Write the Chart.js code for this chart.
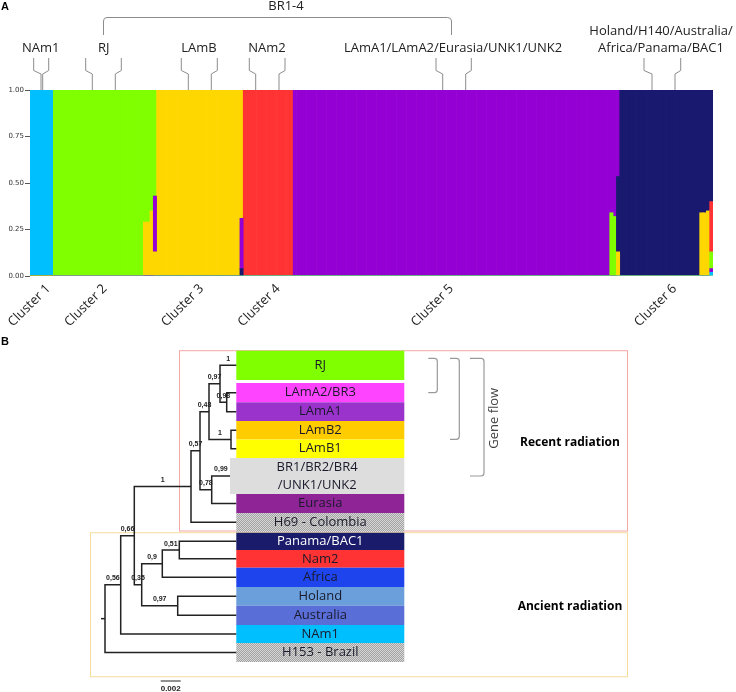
<!DOCTYPE html>
<html>
<head>
<meta charset="utf-8">
<script src="https://cdn.jsdelivr.net/npm/chart.js@4.4.0/dist/chart.umd.min.js"></script>
<style>
    html, body { margin: 0; padding: 0; background: #fff; }
    #wrap { position: relative; width: 736px; height: 692px; }
    #structure { position: absolute; left: 0; top: 0; }
    #tree { position: absolute; left: 0; top: 335px; }
</style>
</head>
<body>
<div id="wrap">
    <canvas id="structure" width="736" height="335" style="width:736px;height:335px"></canvas>
    <canvas id="tree" width="736" height="357" style="width:736px;height:357px"></canvas>
</div>
<script>
// --- Panel A data: STRUCTURE memberships, K = 6 ---
const components = ['NAm1', 'RJ', 'LAmB', 'NAm2', 'LAmA1/LAmA2/Eurasia', 'Holand/Australia/Africa/Panama'];
const componentColors = ['#00bfff', '#7fff00', '#ffd700', '#ff3333', '#9400d3', '#191970'];

// runs of identical isolates: [count, q1, q2, q3, q4, q5, q6]
const sampleRuns = [
    [7, 1, 0, 0, 0, 0, 0],
    [27, 0, 1, 0, 0, 0, 0],
    [2, 0, 0.71, 0.29, 0, 0, 0],
    [1, 0, 0.65, 0.35, 0, 0, 0],
    [1, 0, 0.57, 0.13, 0, 0.30, 0],
    [25, 0, 0, 1, 0, 0, 0],
    [1, 0, 0, 0.69, 0, 0.27, 0.04],
    [15, 0, 0, 0, 1, 0, 0],
    [95, 0, 0, 0, 0, 1, 0],
    [1, 0, 0.34, 0, 0, 0.66, 0],
    [1, 0, 0.32, 0, 0, 0.68, 0],
    [1, 0, 0, 0.13, 0, 0.465, 0.405],
    [24, 0, 0, 0, 0, 0, 1],
    [2, 0, 0, 0.34, 0, 0, 0.66],
    [1, 0, 0, 0.35, 0, 0, 0.65],
    [1, 0.02, 0.09, 0, 0.27, 0.02, 0.60]
];
const clusterNames = ['Cluster 1', 'Cluster 2', 'Cluster 3', 'Cluster 4', 'Cluster 5', 'Cluster 6'];
const clusterTickSample = [5, 22, 51, 74, 126, 193];
const yTicks = [0, 0.25, 0.5, 0.75, 1];

// --- Panel B data: Bayesian tree ---
const tipIds = ['RJ', 'LAmA2', 'LAmA1', 'LAmB2', 'LAmB1', 'BR', 'Eurasia', 'H69', 'Panama', 'Nam2', 'Africa', 'Holand', 'Australia', 'NAm1', 'H153'];
const tipLabels = ['RJ', 'LAmA2/BR3', 'LAmA1', 'LAmB2', 'LAmB1', 'BR1/BR2/BR4\n/UNK1/UNK2', 'Eurasia', 'H69 - Colombia',
    'Panama/BAC1', 'Nam2', 'Africa', 'Holand', 'Australia', 'NAm1', 'H153 - Brazil'];
const tipDepth = [0.01313, 0.01313, 0.01313, 0.01313, 0.01313, 0.0125, 0.01313, 0.01313,
    0.01313, 0.01313, 0.01313, 0.01313, 0.01313, 0.01313, 0.01313];
const tipSupport = ['1', '', '', '', '', '0,99', '', '', '', '', '', '', '', '', ''];

const cladeIds = ['LAmA', 'RJ_LAmA', 'LAmB', 'RJ_LAm', 'BR_Eur', 'core', 'recent', 'Pan_Nam2', 'Pan_Afr', 'Hol_Aus', 'ancient', 'rec_anc', 'with_NAm1', 'root'];
const cladeChildren = [
    ['LAmA2', 'LAmA1'], ['RJ', 'LAmA'], ['LAmB2', 'LAmB1'], ['RJ_LAmA', 'LAmB'], ['BR', 'Eurasia'],
    ['RJ_LAm', 'BR_Eur'], ['core', 'H69'], ['Panama', 'Nam2'], ['Pan_Nam2', 'Africa'], ['Holand', 'Australia'],
    ['Pan_Afr', 'Hol_Aus'], ['recent', 'ancient'], ['rec_anc', 'NAm1'], ['with_NAm1', 'H153']
];
const cladeDepth = [0.01217, 0.0115, 0.0126, 0.0104, 0.01067, 0.0095, 0.0086, 0.00743, 0.00573, 0.00727, 0.00367, 0.00293, 0.00157, 0];
const cladeSupport = ['0,98', '0,97', '1', '0,48', '0,78', '0,57', '1', '0,51', '0,9', '0,97', '0,35', '0,66', '0,56', ''];

// --- layout / styles ---
const tipRows = [[350.7, 380], [383, 402.3], [402.3, 421], [421, 439.5], [439.5, 458], [458, 494], [494, 513], [513, 531.7],
    [532.7, 550], [550, 567.7], [567.7, 587], [587, 605.7], [605.7, 625], [625, 643], [643, 662]];
const tipColors = ['#80ff00', '#ff44ff', '#9933cc', '#ffcc00', '#ffff00', '#dddddd', '#8e2496', 'stipple',
    '#1b1b6b', '#ff3333', '#1e44ee', '#6a9fdc', '#5a6ed8', '#00bfff', 'stipple'];
const tipTextColors = tipIds.map(id => id === 'Panama' ? '#ffffff' : '#1a1a2a');
const boxRight = 404.3;

Chart.defaults.font.family = "'Open Sans', sans-serif";

// ---------- Panel A ----------
const samples = [];
sampleRuns.forEach(run => {
    for (let i = 0; i < run[0]; i++) samples.push(run.slice(1));
});
// each bar is stacked from the smallest membership up
const order = samples.map(q => q.map((v, k) => k).sort((a, b) => q[a] - q[b]));
const rankDatasets = components.map((_, r) => ({
    label: 'rank ' + (r + 1),
    data: samples.map((q, i) => q[order[i][r]]),
    backgroundColor: samples.map((q, i) => componentColors[order[i][r]]),
    borderWidth: 0,
    barPercentage: 1,
    categoryPercentage: 1
}));

const topNotes = [
    { lines: ['NAm1'], x: 40.7, brace: [33.7, 41, 42.7, 48.7] },
    { lines: ['RJ'], x: 103.7, brace: [85.7, 92.3, 115.3, 121.3] },
    { lines: ['LAmB'], x: 199, brace: [181.3, 188.3, 211.3, 217.3] },
    { lines: ['NAm2'], x: 267, brace: [249.3, 255.7, 279, 285] },
    { lines: ['LAmA1/LAmA2/Eurasia/UNK1/UNK2'], x: 453, brace: [436, 442.7, 465.7, 471.3] },
    { lines: ['Holand/H140/Australia/', 'Africa/Panama/BAC1'], x: 661, brace: [644, 652, 675, 680.7] }
];

const structureNotes = {
    id: 'structureNotes',
    afterDraw(chart) {
        const ctx = chart.ctx;
        ctx.save();
        ctx.fillStyle = '#000';
        ctx.font = 'bold 11px "Liberation Sans"';
        ctx.textAlign = 'left';
        ctx.textBaseline = 'alphabetic';
        ctx.fillText('A', 1, 9.5);

        ctx.strokeStyle = '#8c8c8c';
        ctx.lineWidth = 1;
        // BR1-4 bracket
        ctx.beginPath();
        ctx.moveTo(103.5, 35);
        ctx.lineTo(103.5, 21);
        ctx.quadraticCurveTo(103.5, 17.5, 107, 17.5);
        ctx.lineTo(447.5, 17.5);
        ctx.quadraticCurveTo(451.5, 17.5, 451.5, 21);
        ctx.lineTo(451.5, 35);
        ctx.stroke();

        ctx.fillStyle = '#222';
        ctx.font = '13px "Open Sans"';
        ctx.textAlign = 'center';
        ctx.textBaseline = 'middle';
        ctx.fillText('BR1-4', 286, 6);

        topNotes.forEach(n => {
            const y0 = n.lines.length > 1 ? 31.7 : 48.3;
            n.lines.forEach((t, i) => ctx.fillText(t, n.x, y0 + i * 16.6));
            const [a, b, c, d] = n.brace;
            ctx.beginPath();
            ctx.moveTo(a, 58); ctx.lineTo(a, 70.5); ctx.lineTo(b, 74); ctx.lineTo(b, 90);
            ctx.moveTo(d, 58); ctx.lineTo(d, 70.5); ctx.lineTo(c, 74); ctx.lineTo(c, 90);
            ctx.stroke();
        });
        ctx.restore();
    }
};

new Chart(document.getElementById('structure'), {
    type: 'bar',
    data: {
        labels: samples.map((_, i) => 'S' + (i + 1)),
        datasets: rankDatasets
    },
    options: {
        responsive: false,
        animation: false,
        layout: { padding: { top: 90, right: 23, left: 0, bottom: 0 } },
        plugins: { legend: { display: false }, tooltip: { enabled: false } },
        scales: {
            x: {
                stacked: true,
                grid: { display: false, drawTicks: false },
                border: { display: false },
                ticks: {
                    autoSkip: false,
                    minRotation: 45,
                    maxRotation: 45,
                    padding: 5,
                    color: '#222',
                    font: { size: 13, family: "'Open Sans'" },
                    callback: (v, i) => {
                        const c = clusterTickSample.indexOf(i);
                        return c >= 0 ? clusterNames[c] : '';
                    }
                },
                afterFit: s => { s.height = 59; }
            },
            y: {
                stacked: true,
                min: 0,
                max: 1,
                afterBuildTicks: s => { s.ticks = yTicks.map(v => ({ value: v })); },
                ticks: {
                    color: '#333',
                    padding: 1,
                    font: { size: 7, family: "'DejaVu Sans'" },
                    callback: v => v.toFixed(2)
                },
                grid: { drawOnChartArea: false, tickLength: 5, color: '#555' },
                border: { display: false },
                afterFit: s => { s.width = 30; }
            }
        }
    },
    plugins: [structureNotes]
});

// ---------- Panel B ----------
const nodes = {};
tipIds.forEach((id, i) => {
    nodes[id] = { depth: tipDepth[i], y: (tipRows[i][0] + tipRows[i][1]) / 2, support: tipSupport[i] };
});
cladeIds.forEach((id, i) => {
    const [c1, c2] = cladeChildren[i];
    nodes[id] = { depth: cladeDepth[i], y: (nodes[c1].y + nodes[c2].y) / 2, support: cladeSupport[i] };
    nodes[c1].parent = id;
    nodes[c2].parent = id;
});

const branchSets = cladeIds.map((id, i) => {
    const n = nodes[id];
    const [a, b] = cladeChildren[i].map(c => nodes[c]);
    return {
        data: [{ x: a.depth, y: a.y }, { x: n.depth, y: a.y }, { x: n.depth, y: b.y }, { x: b.depth, y: b.y }],
        showLine: true
    };
});
branchSets.push({ data: [{ x: -0.0004, y: nodes.root.y }, { x: 0, y: nodes.root.y }], showLine: true });

function stipple(ctx) {
    const c = document.createElement('canvas');
    c.width = 2; c.height = 2;
    const g = c.getContext('2d');
    g.fillStyle = '#d6d6d6'; g.fillRect(0, 0, 2, 2);
    g.fillStyle = '#a2a2a2'; g.fillRect(0, 0, 1, 1); g.fillRect(1, 1, 1, 1);
    return ctx.createPattern(c, 'repeat');
}

function bracket(ctx, x0, x1, y0, y1) {
    ctx.beginPath();
    ctx.moveTo(x0, y0);
    ctx.lineTo(x1 - 3, y0);
    ctx.quadraticCurveTo(x1, y0, x1, y0 + 3);
    ctx.lineTo(x1, y1 - 3);
    ctx.quadraticCurveTo(x1, y1, x1 - 3, y1);
    ctx.lineTo(x0, y1);
    ctx.stroke();
}

const treeNotes = {
    id: 'treeNotes',
    beforeDatasetsDraw(chart) {
        const ctx = chart.ctx;
        const X = v => chart.scales.x.getPixelForValue(v);
        const Y = v => chart.scales.y.getPixelForValue(v);
        ctx.save();
        ctx.fillStyle = '#000';
        ctx.font = 'bold 11px "Liberation Sans"';
        ctx.textAlign = 'left';
        ctx.textBaseline = 'alphabetic';
        ctx.fillText('B', 1, Y(344.5));

        ctx.lineWidth = 1;
        ctx.strokeStyle = '#f3a7a7';
        ctx.strokeRect(179.5, Y(350.7), 448, Y(531) - Y(350.7));
        ctx.strokeStyle = '#f6dd9c';
        ctx.strokeRect(90.5, Y(532.7), 537, Y(676.7) - Y(532.7));

        const pattern = stipple(ctx);
        tipIds.forEach((id, i) => {
            const x0 = X(tipDepth[i]);
            const y0 = Y(tipRows[i][0]), y1 = Y(tipRows[i][1]);
            ctx.fillStyle = tipColors[i] === 'stipple' ? pattern : tipColors[i];
            ctx.fillRect(x0, y0, boxRight - x0, y1 - y0);
            ctx.fillStyle = tipTextColors[i];
            ctx.font = '13px "Open Sans"';
            ctx.textAlign = 'center';
            ctx.textBaseline = 'middle';
            const lines = tipLabels[i].split('\n');
            const cx = (x0 + boxRight) / 2, cy = (y0 + y1) / 2;
            lines.forEach((t, k) => ctx.fillText(t, cx, cy + (k - (lines.length - 1) / 2) * 17.7));
        });
        ctx.restore();
    },
    afterDatasetsDraw(chart) {
        const ctx = chart.ctx;
        const X = v => chart.scales.x.getPixelForValue(v);
        const Y = v => chart.scales.y.getPixelForValue(v);
        ctx.save();
        // posterior supports, centred on the branch leading to each node
        ctx.fillStyle = '#222';
        ctx.font = 'bold 7px "Liberation Sans"';
        ctx.textAlign = 'center';
        ctx.textBaseline = 'middle';
        Object.values(nodes).forEach(n => {
            if (!n.support || !n.parent) return;
            const p = nodes[n.parent];
            ctx.fillText(n.support, (X(p.depth) + X(n.depth)) / 2, Y(n.y - 6.5));
        });

        // gene flow brackets
        ctx.strokeStyle = '#9a9a9a';
        ctx.lineWidth = 1.2;
        bracket(ctx, 428.3, 437.3, Y(358.3), Y(392.7));
        bracket(ctx, 450, 459.3, Y(358.3), Y(439.3));
        bracket(ctx, 470, 484, Y(358.3), Y(476));

        ctx.fillStyle = '#444';
        ctx.font = '13px "Open Sans"';
        ctx.save();
        ctx.translate(494.3, Y(418.3));
        ctx.rotate(-Math.PI / 2);
        ctx.fillText('Gene flow', 0, 0);
        ctx.restore();

        ctx.fillStyle = '#000';
        ctx.font = 'bold 12px "Open Sans"';
        ctx.fillText('Recent radiation', 570, Y(442.7));
        ctx.fillText('Ancient radiation', 570, Y(606.5));

        // scale bar
        const sx = 160.7, len = X(0.002) - X(0);
        ctx.strokeStyle = '#222';
        ctx.lineWidth = 1;
        ctx.beginPath();
        ctx.moveTo(sx, Y(681));
        ctx.lineTo(sx + len, Y(681));
        ctx.stroke();
        ctx.fillStyle = '#222';
        ctx.font = 'bold 8px "Liberation Sans"';
        ctx.fillText('0.002', sx + len / 2, Y(688.5));
        ctx.restore();
    }
};

new Chart(document.getElementById('tree'), {
    type: 'scatter',
    data: { datasets: branchSets },
    options: {
        responsive: false,
        animation: false,
        layout: { padding: 0, autoPadding: false },
        elements: {
            point: { radius: 0, hoverRadius: 0 },
            line: { borderColor: '#222', borderWidth: 1.5, tension: 0, fill: false }
        },
        plugins: { legend: { display: false }, tooltip: { enabled: false } },
        scales: {
            x: { type: 'linear', min: -0.0105, max: 0.0631, display: false },
            y: { type: 'linear', min: 335, max: 692, reverse: true, display: false }
        }
    },
    plugins: [treeNotes]
});
</script>
</body>
</html>
